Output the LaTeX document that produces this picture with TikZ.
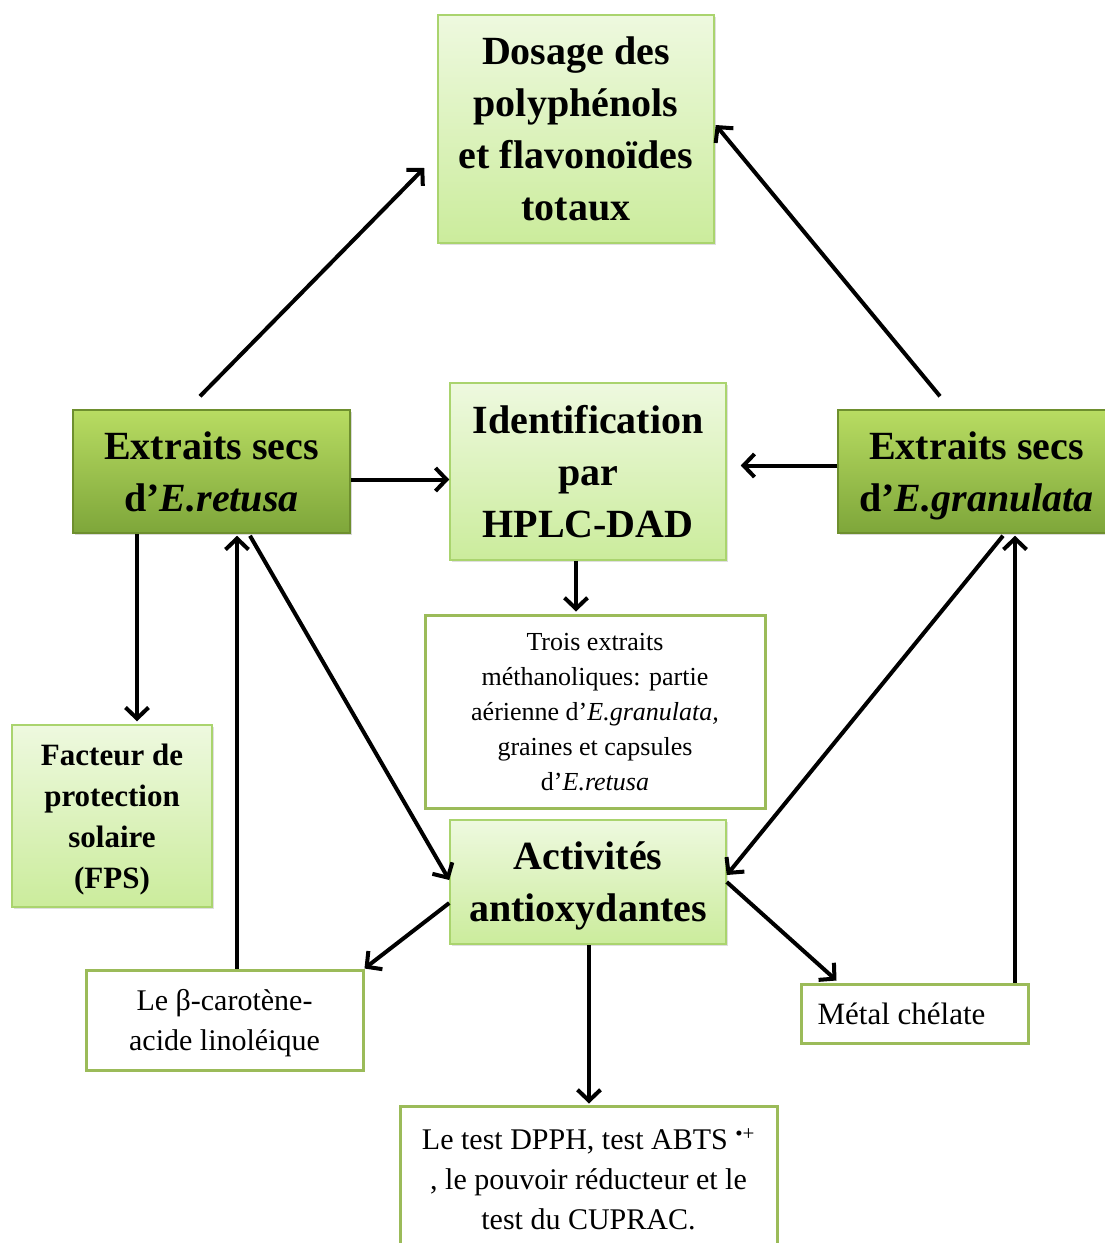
\documentclass[tikz,border=0pt]{standalone}
\usepackage{fontspec}
\setmainfont{Liberation Serif}
\usetikzlibrary{arrows.meta,calc,shadows}
\definecolor{lgtop}{HTML}{EEF9DF}
\definecolor{lgbot}{HTML}{CBEC9C}
\definecolor{lgline}{HTML}{AAD46E}
\definecolor{dgtop}{HTML}{B8DC62}
\definecolor{dgbot}{HTML}{7EA63A}
\definecolor{dgline}{HTML}{6E8F2E}
\definecolor{wline}{HTML}{9BBB59}

\begin{document}
\begin{tikzpicture}[
  x=1pt,y=-1pt,
  lightbox/.style={draw=lgline,line width=1.5pt,top color=lgtop,bottom color=lgbot,align=center,inner sep=0pt,text depth=0pt,
    drop shadow={opacity=0.25,shadow xshift=2pt,shadow yshift=-2pt},font=\bfseries\fontsize{40}{52}\selectfont},
  darkbox/.style={draw=dgline,line width=1.5pt,top color=dgtop,bottom color=dgbot,align=center,inner sep=0pt,text depth=0pt,
    drop shadow={opacity=0.3,shadow xshift=2pt,shadow yshift=-2pt},font=\bfseries\fontsize{40}{52}\selectfont,
    minimum width=277pt,minimum height=123pt},
  whitebox/.style={draw=wline,line width=3pt,fill=white,align=center,inner sep=0pt,text depth=0pt,font=\fontsize{30}{40}\selectfont},
  arr/.style={-{Straight Barb[length=11pt,width=23pt]},line width=4pt,black},
]
  \useasboundingbox (0,0) rectangle (1105,1243);
  \clip (0,0) rectangle (1105,1243);

  \node[lightbox,minimum width=276pt,minimum height=228pt] (dosage) at (576,129)
    {Dosage des\\polyphénols\\et flavonoïdes\\totaux};
  \node[darkbox] (retusa) at (211.5,471.5) {Extraits secs\\d’\textit{E.retusa}};
  \node[darkbox] (granu) at (976.5,471.5) {Extraits secs\\d’\textit{E.granulata}};
  \node[lightbox,minimum width=276pt,minimum height=177pt] (ident) at (588,471.5)
    {Identification\\par\\HPLC-DAD};
  \node[whitebox,minimum width=340pt,minimum height=193pt,font=\fontsize{26}{35}\selectfont] (trois) at (595,711.5)
    {Trois extraits\\méthanoliques: partie\\aérienne d’\textit{E.granulata,}\\graines et capsules\\d’\textit{E.retusa}};
  \node[lightbox,minimum width=276pt,minimum height=124pt] (activ) at (588,882)
    {Activités\\antioxydantes};
  \node[lightbox,minimum width=200pt,minimum height=182pt,font=\bfseries\fontsize{31}{41}\selectfont] (fps) at (112,816)
    {Facteur de\\protection\\solaire\\(FPS)};
  \node[whitebox,minimum width=277pt,minimum height=100pt] (beta) at (224.5,1020)
    {Le β-carotène-\\acide linoléique};
  \node[whitebox,minimum width=227pt,minimum height=59pt,font=\fontsize{31}{40}\selectfont] (metal) at (914.5,1013.5)
    {\hspace*{-26pt}Métal chélate};
  \node[whitebox,minimum width=377pt,minimum height=146pt] (dpph) at (588.5,1179)
    {Le test DPPH, test ABTS \textsuperscript{\textbullet+}\\, le pouvoir réducteur et le\\test du CUPRAC.};

  \draw[arr] ($(retusa.north)+(-11.5,-13)$) -- ($(dosage.west)+(-13,39)$);
  \draw[arr] ($(granu.north)+(-36.5,-13)$) -- ($(dosage.east)+(1,-4)$);
  \draw[arr] ($(retusa.east)+(0,8)$) -- ($(ident.west)+(0,8)$);
  \draw[arr] ($(granu.west)+(0,-6)$) -- ($(ident.east)+(14,-6)$);
  \draw[arr] ($(ident.south)+(-12,0)$) -- ($(trois.north)+(-19,-2)$);
  \draw[arr] ($(retusa.south)+(38.5,2)$) -- ($(activ.west)+(0,-2)$);
  \draw[arr] ($(granu.south)+(26.5,2)$) -- ($(activ.east)+(0,-7)$);
  \draw[arr] ($(retusa.south)+(-74.5,0)$) -- ($(fps.north)+(25,-3)$);
  \draw[arr] ($(beta.north)+(12.5,0)$) -- ($(retusa.south)+(25.5,2)$);
  \draw[arr] ($(metal.north)+(100.5,0)$) -- ($(granu.south)+(38.5,2)$);
  \draw[arr] ($(activ.west)+(0,21)$) -- (beta.north east);
  \draw[arr] (activ.east) -- ($(metal.north west)+(37,-2)$);
  \draw[arr] ($(activ.south)+(1,0)$) -- ($(dpph.north)+(0.5,-1)$);
\end{tikzpicture}
\end{document}
